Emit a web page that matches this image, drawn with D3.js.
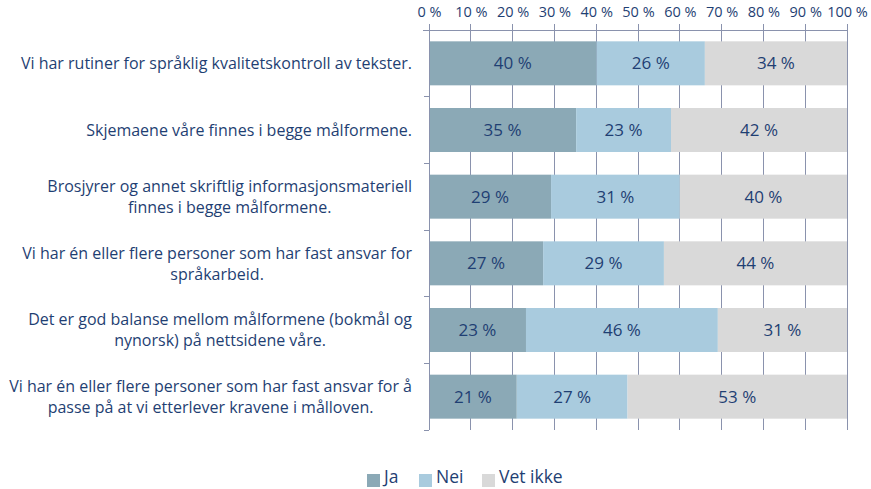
<!DOCTYPE html>
<html><head><meta charset="utf-8">
<script src="https://cdn.jsdelivr.net/npm/d3@7/dist/d3.min.js"></script>
<style>
body{margin:0;background:#fff;}
svg{display:block;font-family:"Open Sans",Lato,sans-serif;}
</style></head>
<body><svg id="c" width="871" height="489"></svg>
<script>
const categories = [
  ["Vi har rutiner for språklig kvalitetskontroll av tekster."],
  ["Skjemaene våre finnes i begge målformene."],
  ["Brosjyrer og annet skriftlig informasjonsmateriell", "finnes i begge målformene."],
  ["Vi har én eller flere personer som har fast ansvar for", "språkarbeid."],
  ["Det er god balanse mellom målformene (bokmål og", "nynorsk) på nettsidene våre."],
  ["Vi har én eller flere personer som har fast ansvar for å", "passe på at vi etterlever kravene i målloven."]
];
const seriesNames = ["Ja", "Nei", "Vet ikke"];
const ja = [40.1, 35.2, 29.2, 27.3, 23.2, 21.0];
const nei = [25.9, 22.7, 30.8, 28.9, 45.9, 26.5];
const vetIkke = [34.0, 42.1, 40.0, 43.8, 30.9, 52.5];
const tickValues = [0, 10, 20, 30, 40, 50, 60, 70, 80, 90, 100];
const colors = ["#8ba9b6", "#a9cbde", "#d9d9d9"];
const textColor = "#1f3f73";
const gridColor = "#8a92ad";

const svg = d3.select("#c");
const m = {left: 429, right: 847, top: 30, bottom: 430};
const x = d3.scaleLinear().domain([0, 100]).range([m.left, m.right]);
const y = d3.scaleBand().domain(d3.range(categories.length)).range([m.top, m.bottom]).paddingInner(0.34).paddingOuter(0.17);

const rows = categories.map((c, i) => ({i, vals: [ja[i], nei[i], vetIkke[i]]}));

// gridlines
svg.append("g").selectAll("line").data(tickValues).join("line")
  .attr("x1", d => x(d)).attr("x2", d => x(d))
  .attr("y1", m.top - 6).attr("y2", m.bottom)
  .attr("stroke", gridColor).attr("stroke-width", 1).attr("shape-rendering", "crispEdges");
svg.append("line").attr("x1", m.left - 6).attr("x2", m.right).attr("y1", m.top).attr("y2", m.top)
  .attr("stroke", gridColor).attr("shape-rendering", "crispEdges");

// top axis labels
const xAxis = d3.axisTop(x).tickValues(tickValues).tickFormat(d => d + " %").tickSize(0);
const gx = svg.append("g").attr("transform", `translate(0,17)`).call(xAxis);
gx.select(".domain").remove();
gx.selectAll("text").attr("fill", textColor).attr("font-size", 14.5).attr("font-family", "'Open Sans',sans-serif").attr("y", 0).attr("dy", "0");

// bars
const g = svg.append("g");
rows.forEach(r => {
  let acc = 0;
  r.vals.forEach((v, k) => {
    const x0 = acc, x1 = acc + v; acc = x1;
    g.append("rect").attr("x", x(x0)).attr("width", x(x1) - x(x0))
      .attr("y", y(r.i)).attr("height", y.bandwidth()).attr("fill", colors[k]);
    g.append("text").attr("x", (x(x0) + x(x1)) / 2).attr("y", y(r.i) + y.bandwidth() / 2)
      .attr("dy", "0.36em").attr("text-anchor", "middle").attr("fill", textColor)
      .attr("font-size", 17).text(Math.round(v) + " %");
  });
});

// left axis
svg.append("line").attr("x1", m.left).attr("x2", m.left).attr("y1", m.top).attr("y2", m.bottom)
  .attr("stroke", gridColor).attr("shape-rendering", "crispEdges");
const step = (m.bottom - m.top) / categories.length;
svg.append("g").selectAll("line").data(d3.range(categories.length + 1)).join("line")
  .attr("x1", m.left - 5).attr("x2", m.left)
  .attr("y1", d => m.top + d * step).attr("y2", d => m.top + d * step)
  .attr("stroke", gridColor).attr("shape-rendering", "crispEdges");

// category labels
const lab = svg.append("g").attr("fill", textColor).attr("font-size", 16);
categories.forEach((lines, i) => {
  const cy = y(i) + y.bandwidth() / 2;
  const t = lab.append("text").attr("text-anchor", "middle");
  const tmp = lines.map(l => { const s = lab.append("text").text(l); const w = s.node().getComputedTextLength(); s.remove(); return w; });
  const maxW = d3.max(tmp);
  const right = 412;
  const cx = right - maxW / 2;
  const lh = 21;
  lines.forEach((l, j) => {
    t.append("tspan").attr("x", cx).attr("y", cy + (j - (lines.length - 1) / 2) * lh).attr("dy", "0.36em").text(l);
  });
});

// legend
const legend = svg.append("g").attr("font-size", 17.5).attr("fill", textColor);
const lx = [367, 419, 482];
seriesNames.forEach((n, k) => {
  legend.append("rect").attr("x", lx[k]).attr("y", 474).attr("width", 13).attr("height", 13).attr("fill", colors[k]);
  legend.append("text").attr("x", lx[k] + 17).attr("y", 477).attr("dy", "0.32em").text(n);
});
</script></body></html>
